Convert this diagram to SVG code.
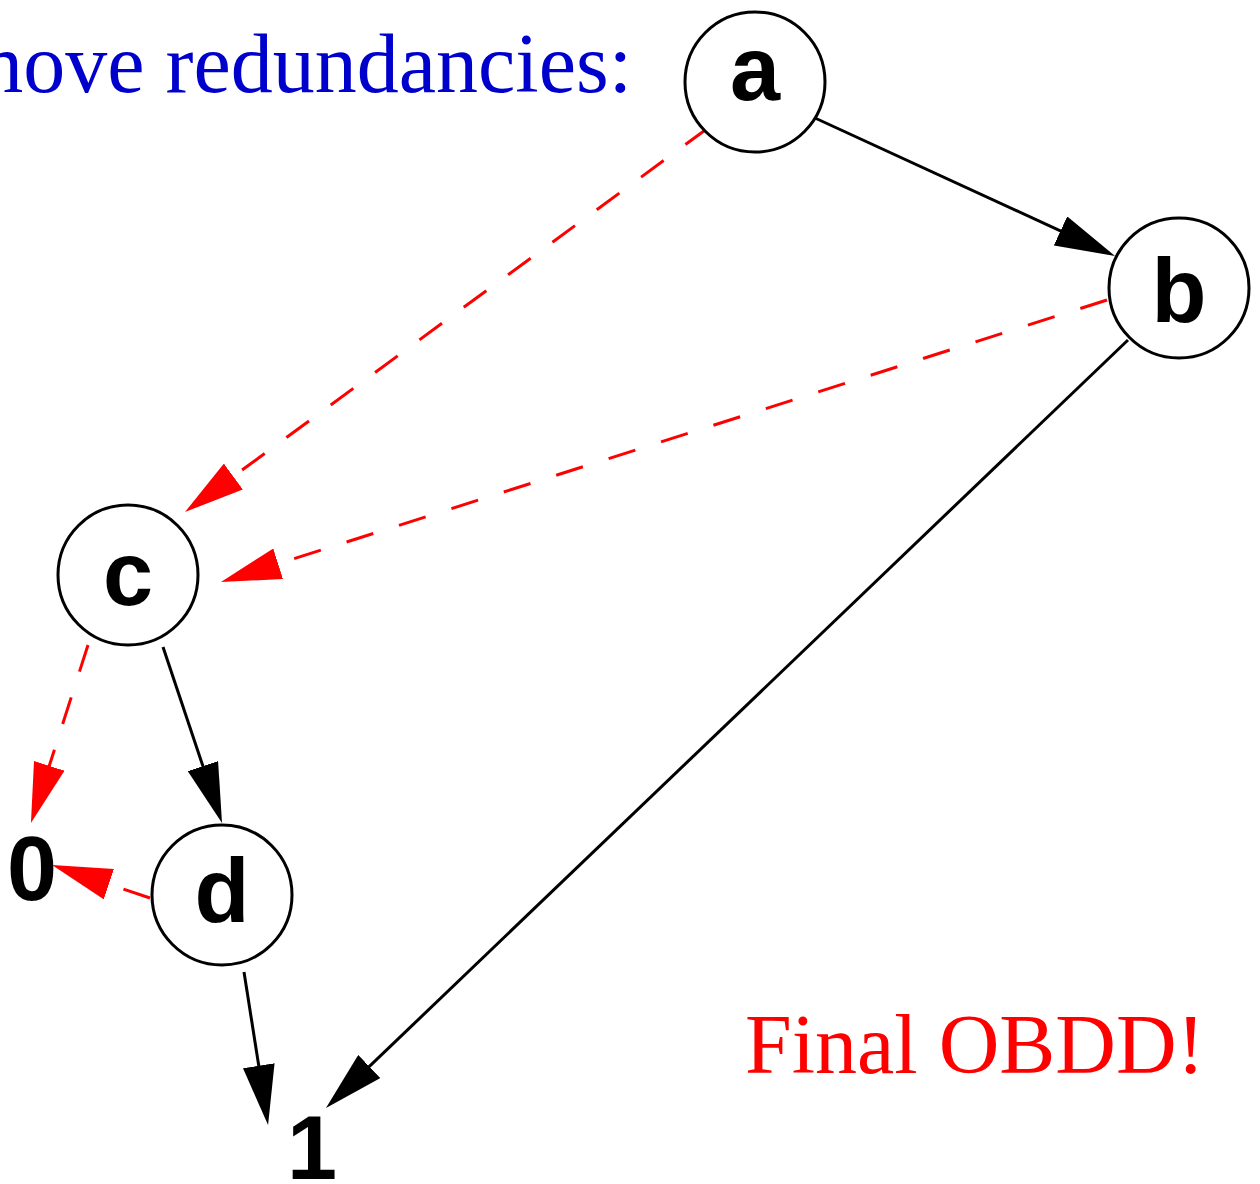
<svg xmlns="http://www.w3.org/2000/svg" width="1260" height="1184" viewBox="0 0 1260 1184">
<style>
.node circle{fill:#fff;stroke:#000;stroke-width:3}
.lbl{font-family:"Liberation Sans",Arial,sans-serif;font-weight:bold;font-size:90px;text-anchor:middle;fill:#000}
.note{font-family:"Liberation Serif","Times New Roman",serif;font-size:84px}
.hi{stroke:#000;stroke-width:3;fill:none;marker-end:url(#ah)}
.lo{stroke:#f00;stroke-width:3;fill:none;stroke-dasharray:28 27;marker-end:url(#ar)}
</style>
<defs>
<marker id="ah" viewBox="0 0 60 32" refX="10" refY="16" markerWidth="60" markerHeight="32" markerUnits="userSpaceOnUse" orient="auto"><path d="M0,0 L60,16 L0,32 z" fill="#000"/></marker>
<marker id="ar" viewBox="0 0 60 32" refX="10" refY="16" markerWidth="60" markerHeight="32" markerUnits="userSpaceOnUse" orient="auto"><path d="M0,0 L60,16 L0,32 z" fill="#f00"/></marker>
</defs>
<rect width="1260" height="1184" fill="#fff"/>
<text class="note" x="632" y="92" text-anchor="end" fill="#0000cc">Remove redundancies:</text>
<text class="note" x="745" y="1073" fill="#f00">Final OBDD!</text>
<g id="connectors">
<path class="hi" d="M815,118 L1069.6,235.1"/>
<path class="lo" d="M708,128 L225.3,482.4"/>
<path class="lo" d="M1107,300 L268.6,566.8"/>
<path class="hi" d="M1128,340 L362.1,1073.4"/>
<path class="lo" d="M88,645 L46.2,775.4"/>
<path class="hi" d="M163,647 L206.1,775.6"/>
<path class="lo" d="M150,898 L99.4,881"/>
<path class="hi" d="M244,972 L260.3,1075.6"/>
</g>
<g id="node-a" class="node"><circle cx="755" cy="82" r="70"/><text class="lbl" x="755" y="100">a</text></g>
<g id="node-b" class="node"><circle cx="1179" cy="288" r="70"/><text class="lbl" x="1179" y="322">b</text></g>
<g id="node-c" class="node"><circle cx="128" cy="575" r="70"/><text class="lbl" x="128" y="605">c</text></g>
<g id="node-d" class="node"><circle cx="222" cy="895" r="70"/><text class="lbl" x="222" y="922">d</text></g>
<g id="node-0"><text class="lbl" x="32" y="900">0</text></g>
<g id="node-1"><text class="lbl" x="312" y="1179">1</text></g>
</svg>
